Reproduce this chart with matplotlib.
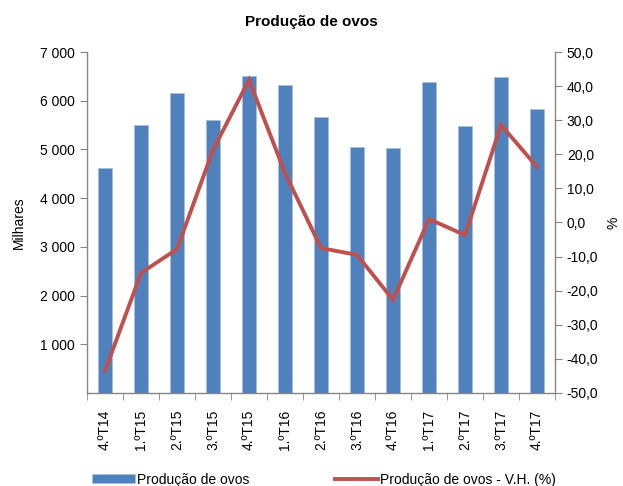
import numpy as np
import matplotlib.pyplot as plt
from matplotlib.ticker import FuncFormatter

plt.rcParams['font.family'] = ['Liberation Sans', 'DejaVu Sans']
plt.rcParams['font.size'] = 10

quarters = ["4.ºT14", "1.ºT15", "2.ºT15", "3.ºT15", "4.ºT15", "1.ºT16", "2.ºT16",
            "3.ºT16", "4.ºT16", "1.ºT17", "2.ºT17", "3.ºT17", "4.ºT17"]
producao = [4610, 5510, 6160, 5610, 6510, 6320, 5670, 5060, 5020, 6380, 5480, 6480, 5830]
vh = [-43.5, -14.8, -7.8, 21.3, 41.8, 14.5, -7.5, -9.5, -22.7, 1.0, -3.7, 28.6, 16.3]

blue = "#4F81BD"
red = "#C0504D"
grey = "#868686"

fig = plt.figure(figsize=(6.23, 4.86), dpi=100)
ax = fig.add_axes([0.1397, 0.1914, 0.7512, 0.7016])
ax2 = ax.twinx()

x = np.arange(len(quarters))
bars = ax.bar(x, producao, width=0.4, color=blue, edgecolor="#A7C0DE", linewidth=0.5,
              label="Produção de ovos", zorder=2)
line, = ax2.plot(x, vh, color=red, linewidth=2.8, label="Produção de ovos - V.H. (%)",
                 solid_joinstyle="miter")

ax.set_xlim(-0.5, len(quarters) - 0.5)
ax.set_ylim(0, 7000)
ax2.set_ylim(-50, 50)
ax.set_yticks(np.arange(1000, 7001, 1000))
ax2.set_yticks(np.arange(-50, 51, 10))

ax.yaxis.set_major_formatter(FuncFormatter(lambda v, p: f"{int(v):,}".replace(",", " ")))
ax2.yaxis.set_major_formatter(FuncFormatter(lambda v, p: f"{v:.1f}".replace(".", ",")))

ax.set_xticks(x)
ax.set_xticklabels(quarters, rotation=90)
ax.set_xticks(np.arange(-0.5, len(quarters), 1), minor=True)
ax.tick_params(axis="x", which="major", length=0, pad=12)
ax.tick_params(axis="x", which="minor", length=5, color=grey, direction="out")
ax.tick_params(axis="y", length=5, color=grey, direction="out")
ax2.tick_params(axis="y", length=5, color=grey, direction="out")

for a in (ax, ax2):
    for s in a.spines.values():
        s.set_visible(False)
ax.spines["left"].set_visible(True)
ax.spines["bottom"].set_visible(True)
ax2.spines["right"].set_visible(True)
for s in (ax.spines["left"], ax.spines["bottom"], ax2.spines["right"]):
    s.set_color(grey)
    s.set_linewidth(1.0)

ax.set_ylabel("Milhares", labelpad=10)
ax2.set_ylabel("%", rotation=90, va="center", ha="center")
ax2.yaxis.set_label_coords(1.124, 0.5)
fig.suptitle("Produção de ovos", fontweight="bold", fontsize=11, y=0.97)

fig.legend(handles=[bars, line], loc="lower left", bbox_to_anchor=(0.127, -0.027),
           ncol=2, frameon=False, handlelength=3.1, handletextpad=0.2,
           columnspacing=6.1, handleheight=0.6)

fig.savefig("out.png", dpi=100)
